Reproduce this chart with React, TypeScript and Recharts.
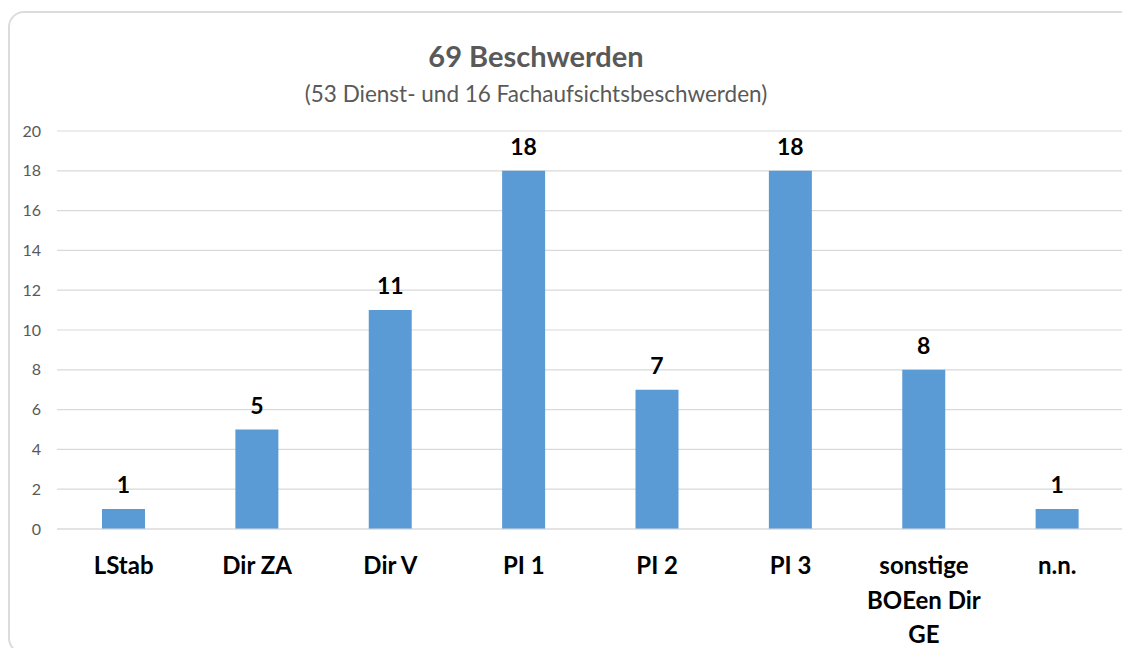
import { BarChart, Bar, XAxis, YAxis, CartesianGrid, LabelList } from 'recharts';

const categories = ['LStab', 'Dir ZA', 'Dir V', 'PI 1', 'PI 2', 'PI 3', 'sonstige BOEen Dir GE', 'n.n.'];
const complaints = [1, 5, 11, 18, 7, 18, 8, 1];
const yTicks = [0, 2, 4, 6, 8, 10, 12, 14, 16, 18, 20];

const chartData = categories.map((name, i) => ({ name, value: complaints[i] }));

const FONT = 'Lato, "Open Sans", sans-serif';

function wrap(label: string, maxChars: number) {
  const words = label.split(' ');
  const lines: string[] = [];
  let cur = '';
  words.forEach((w) => {
    const next = cur ? `${cur} ${w}` : w;
    if (next.length > maxChars && cur) {
      lines.push(cur);
      cur = w;
    } else {
      cur = next;
    }
  });
  if (cur) lines.push(cur);
  return lines;
}

function CategoryTick({ x, y, payload }: any) {
  const lines = wrap(payload.value, 10);
  return (
    <text x={x} y={y} textAnchor="middle" fontFamily={FONT} fontSize={24} fontWeight={700} fill="#000">
      {lines.map((line, i) => (
        <tspan key={i} x={x} y={y + 37 + i * 34.5}>
          {line}
        </tspan>
      ))}
    </text>
  );
}

export default function App() {
  return (
    <div style={{ position: 'relative', width: 1114, height: 640 }}>
      {/* card frame, right edge runs off the page like in the screenshot */}
      <div style={{ position: 'absolute', left: 0, top: 0, width: 1122, height: 651, overflow: 'hidden' }}>
        <div
          style={{
            position: 'absolute',
            left: 0,
            top: 3,
            width: 1150,
            height: 643,
            border: '2px solid #dcdcdc',
            borderRadius: 16,
            boxSizing: 'border-box',
          }}
        />
      </div>
      <div
        style={{
          position: 'absolute',
          left: -8,
          top: -8,
          width: 1130,
          height: 659,
        }}
      >
        <BarChart
          width={1130}
          height={659}
          data={chartData}
          margin={{ top: 131, right: 6, bottom: 10, left: 0 }}
        >
          <CartesianGrid vertical={false} stroke="#d9d9d9" strokeWidth={1.2} />
          <XAxis
            dataKey="name"
            axisLine={{ stroke: '#d9d9d9', strokeWidth: 1.2 }}
            tickLine={false}
            interval={0}
            height={120}
            tick={<CategoryTick />}
          />
          <YAxis
            width={57}
            domain={[0, 20]}
            ticks={yTicks}
            axisLine={false}
            tickLine={false}
            tickSize={14}
            tickMargin={2}
            tick={{ fontFamily: FONT, fontSize: 16, fill: '#595959' }}
          />
          <Bar dataKey="value" fill="#5b9bd5" barSize={43} isAnimationActive={false}>
            <LabelList
              dataKey="value"
              position="top"
              offset={16}
              style={{ fontFamily: FONT, fontSize: 23, fontWeight: 700, fill: '#000' }}
            />
          </Bar>
        </BarChart>
      </div>
      <div
        style={{
          position: 'absolute',
          left: 236,
          width: 584,
          top: 31,
          textAlign: 'center',
          fontFamily: FONT,
          fontSize: 29,
          fontWeight: 700,
          color: '#595959',
          lineHeight: '34px',
        }}
      >
        69 Beschwerden
      </div>
      <div
        style={{
          position: 'absolute',
          left: 236,
          width: 584,
          top: 72,
          textAlign: 'center',
          fontFamily: FONT,
          fontSize: 22.5,
          color: '#595959',
          lineHeight: '28px',
        }}
      >
        (53 Dienst- und 16 Fachaufsichtsbeschwerden)
      </div>
    </div>
  );
}
